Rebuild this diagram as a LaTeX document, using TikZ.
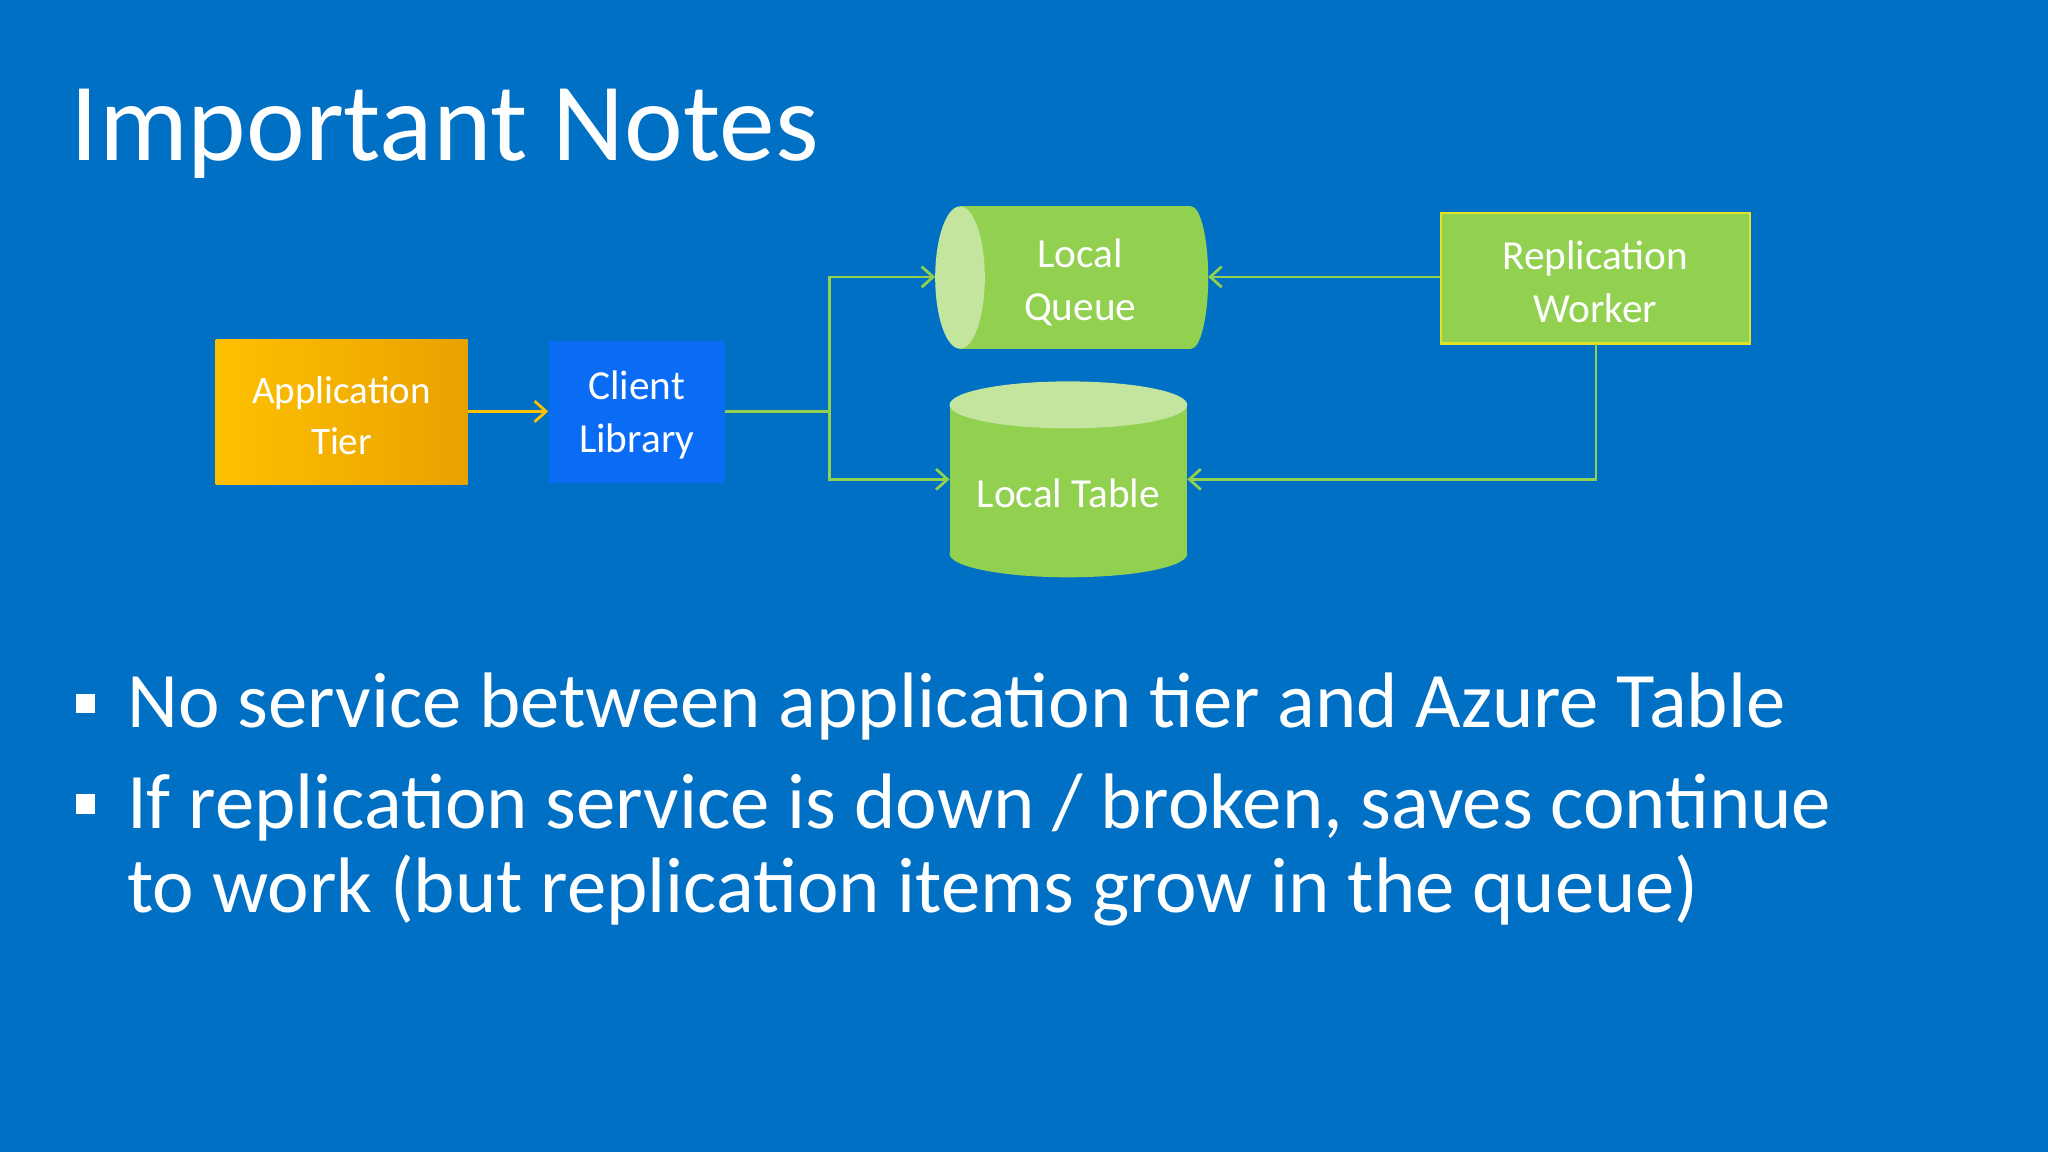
\documentclass[tikz,border=0pt]{standalone}
\usepackage{fontspec}
\setmainfont{Carlito}
\usetikzlibrary{arrows.meta,shapes.geometric}
\definecolor{bg}{HTML}{0070C5}
\definecolor{gr}{HTML}{92D050}
\definecolor{grl}{HTML}{C3E59E}
\definecolor{org}{HTML}{FFC000}
\definecolor{org2}{HTML}{E8A200}
\definecolor{cl}{HTML}{0A6CF5}
\tikzset{
 lbl/.style={text=white,font=\fontsize{18}{23}\selectfont,align=center},
 big/.style={anchor=base west,inner sep=0,text=white,font=\fontsize{34.3}{42}\selectfont},
 conn/.style={draw=gr,line width=1.2pt,-{Straight Barb[length=5pt,width=9pt]}},
}
\begin{document}
\begin{tikzpicture}[x=0.02cm,y=-0.02cm]
\fill[bg] (0,0) rectangle (1568,882);
\useasboundingbox (0,0) rectangle (1568,882);
\node[anchor=base west,text=white,font=\fontsize{48.5}{52}\selectfont,inner sep=0] (title) at (54,123) {Important Notes};
% App tier
\shade[left color=org,right color=org2] (165,260) rectangle (358,371);
\node[lbl,font=\fontsize{17}{22}\selectfont,minimum width=3.86cm,minimum height=2.22cm] (app) at (261.5,318) {Application\\Tier};
% Client library
\fill[cl] (420,261) rectangle (555,370);
\node[lbl,minimum width=2.7cm,minimum height=2.18cm] (cli) at (487.5,318) {Client\\Library};
% Local queue
\fill[gr] (735,158) rectangle (912,267);
\fill[gr] (912,212.5) ellipse[x radius=13,y radius=54.5];
\fill[grl] (735,212.5) ellipse[x radius=19,y radius=54.5];
\node[lbl] (lq) at (827,216) {Local\\Queue};
\coordinate (lqw) at (716,212);
\coordinate (lqe) at (925,212);
% Local table
\fill[gr] (727,310) rectangle (909,424);
\fill[gr] (818,424) ellipse[x radius=91,y radius=18];
\fill[grl] (818,310) ellipse[x radius=91,y radius=18];
\node[lbl] (lt) at (818,378) {Local Table};
\coordinate (ltw) at (727,367);
\coordinate (lte) at (909,367);
% Replication worker
\fill[gr,draw=yellow!70!gr,line width=1pt] (1103,163) rectangle (1340,263);
\node[lbl,minimum width=4.74cm,minimum height=2cm] (rw) at (1221.5,216) {Replication\\Worker};
% connectors
\draw[conn,draw=org] (app.east |- 0,315) -- (cli.west |- 0,315);
\coordinate (j) at (635,315);
\draw[gr,line width=1.6pt] (cli.east |- j) -- (j);
\draw[conn] (j) |- (lqw);
\draw[conn] (j) |- (ltw);
\draw[conn] (rw.west |- lqe) -- (lqe);
\draw[conn] (1222,263) |- (lte);
% bullets
\fill[white] (58,531) rectangle (73,546);
\fill[white] (58,608) rectangle (73,623);
\node[big] (b1) at (97,557) {No service between application tier and Azure Table};
\node[big] (b2) at (97,634) {If replication service is down / broken, saves continue};
\node[big] (b3) at (97,699) {to work (but replication items grow in the queue)};
\end{tikzpicture}
\end{document}
